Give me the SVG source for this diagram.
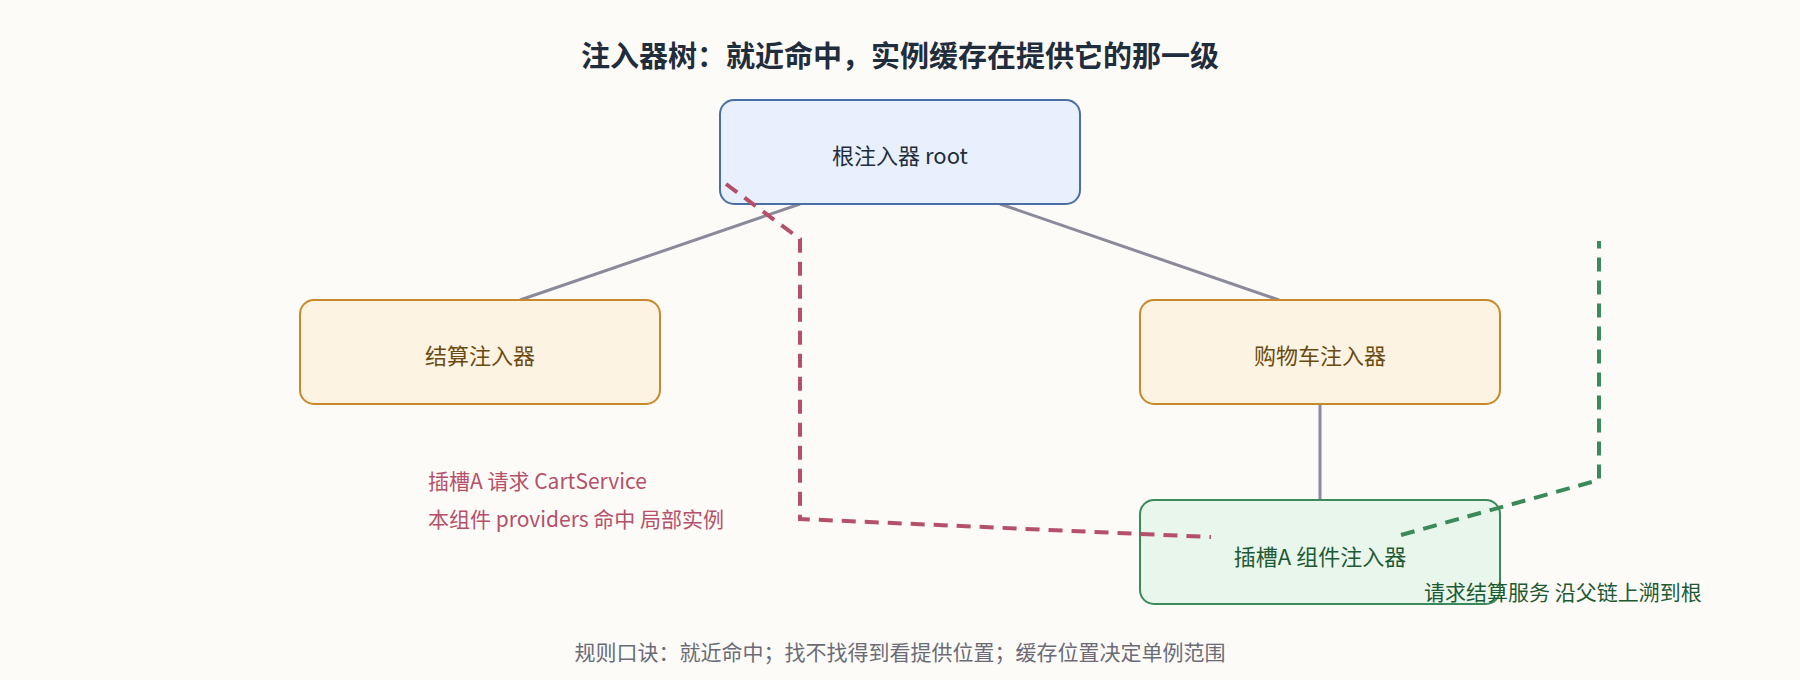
<svg xmlns="http://www.w3.org/2000/svg" width="1800" height="680" viewBox="0 0 1800 680">
<style>
text{font-family:"Noto Sans CJK SC","Noto Sans",sans-serif}
.t{font-size:22px;text-anchor:middle;dominant-baseline:central}
.edge{stroke:#8a8a9a;stroke-width:3;fill:none}
</style>
<rect width="1800" height="680" fill="#fdfbf7"/>
<text x="900" y="54" text-anchor="middle" dominant-baseline="central" font-size="29" font-weight="bold" fill="#1f2d3d">注入器树：就近命中，实例缓存在提供它的那一级</text>
<g id="connectors">
<line class="edge" x1="800" y1="204" x2="520" y2="300"/>
<line class="edge" x1="1000" y1="204" x2="1279" y2="300"/>
<line class="edge" x1="1320" y1="403" x2="1320" y2="500"/>
</g>
<g id="root"><rect x="720" y="100" width="360" height="104" rx="14" fill="#e8f0fd" stroke="#4a6fa5" stroke-width="2"/><text class="t" x="900" y="154" fill="#1f2d3d">根注入器 root</text></g>
<g id="checkout"><rect x="300" y="300" width="360" height="104" rx="14" fill="#fdf3e3" stroke="#c8892b" stroke-width="2"/><text class="t" x="480" y="354" fill="#6b4a10">结算注入器</text></g>
<g id="cart"><rect x="1140" y="300" width="360" height="104" rx="14" fill="#fdf3e3" stroke="#c8892b" stroke-width="2"/><text class="t" x="1320" y="354" fill="#6b4a10">购物车注入器</text></g>
<g id="slot"><rect x="1140" y="500" width="360" height="104" rx="14" fill="#e8f6ec" stroke="#3a8a5a" stroke-width="2"/><text class="t" x="1320" y="555" fill="#1d5a33">插槽A 组件注入器</text></g>
<g id="paths">
<polyline points="726,184 800,239 800,519 1211,537" fill="none" stroke="#b5506a" stroke-width="4" stroke-dasharray="14,9"/>
<polyline points="1401,535 1599,480 1599,241" fill="none" stroke="#3a8a5a" stroke-width="4" stroke-dasharray="14,9"/>
</g>
<text x="428" y="480" font-size="21" fill="#b5506a" dominant-baseline="central">插槽A 请求 CartService</text>
<text x="428" y="518" font-size="21" fill="#b5506a" dominant-baseline="central">本组件 providers 命中 局部实例</text>
<text x="1424" y="591" font-size="21" fill="#1d5a33" dominant-baseline="central">请求结算服务 沿父链上溯到根</text>
<text x="900" y="651" text-anchor="middle" dominant-baseline="central" font-size="21" fill="#6b6b78">规则口诀：就近命中；找不找得到看提供位置；缓存位置决定单例范围</text>
</svg>
